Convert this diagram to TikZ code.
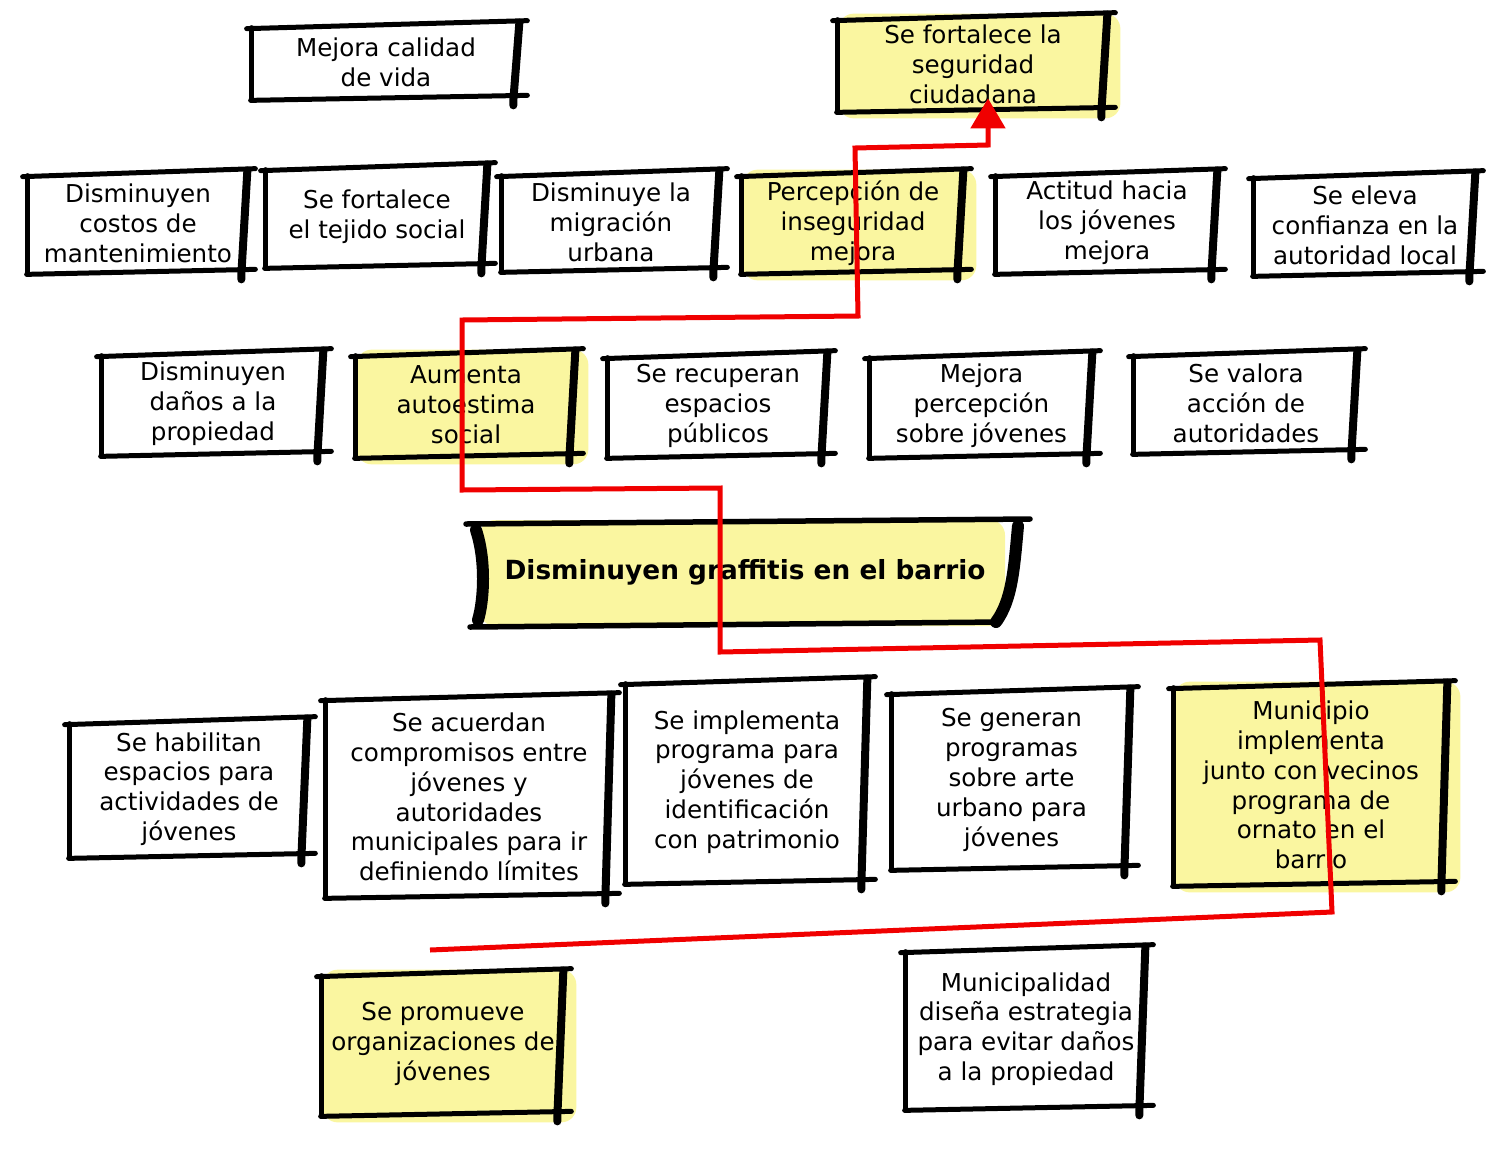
\documentclass[tikz,border=0pt]{standalone}
\usepackage{fontspec}
\setmainfont{DejaVu Sans}
\usetikzlibrary{arrows.meta}
\pgfdeclarelayer{background}
\pgfsetlayers{background,main}
\definecolor{yel}{RGB}{250,246,160}
\definecolor{redl}{RGB}{240,0,0}
\tikzset{
 card/.style={inner sep=0pt, align=center, font=\fontsize{14}{17}\selectfont, text=black},
 fr/.style={line width=0.1cm, line cap=round, black},
 frt/.style={line width=0.16cm, line cap=round, black},
 redpath/.style={draw=redl, line width=0.1cm, line join=miter, -{Triangle[width=0.68cm,length=0.6cm]}},
}
\newcommand\skframe[1]{%
 \draw[fr] ([shift={(-3,5)}]#1.north west) -- ([shift={(5,-3)}]#1.north east);
 \draw[fr] ([shift={(2,4)}]#1.north west) -- ([shift={(2,0)}]#1.south west);
 \draw[fr] ([shift={(1,0)}]#1.south west) -- ([shift={(5,-5)}]#1.south east);
 \draw[frt] ([shift={(-3,-1)}]#1.north east) -- ([shift={(-9,0)}]#1.south east) -- ++(0,5);
}
\newcommand\skbox[6]{%
 \pgfmathsetmacro\cx{(#2+#4)/2}\pgfmathsetmacro\cy{(#3+#5)/2}%
 \pgfmathsetmacro\ww{(#4-#2)*0.02}\pgfmathsetmacro\hh{(#5-#3)*0.02}%
 \node[card,minimum width=\ww cm,minimum height=\hh cm] (#1) at (\cx,\cy) {#6};%
 \skframe{#1}}
\newcommand\skyel[1]{%
 \begin{pgfonlayer}{background}
 \fill[yel,rounded corners=0.3cm] ([shift={(3,-2)}]#1.north west) rectangle ([shift={(10,6)}]#1.south east);
 \end{pgfonlayer}}
\begin{document}
\begin{tikzpicture}[x=0.02cm,y=-0.02cm]
\useasboundingbox (0,0) rectangle (1491,1157);
% row 0
\skbox{mcv}{250}{24}{522}{100}{Mejora calidad\\de vida}
\skbox{sfs}{836}{16}{1110}{112}{Se fortalece la\\seguridad\\ciudadana}\skyel{sfs}
% row 1
\skbox{b1}{26}{172}{250}{274}{Disminuyen\\costos de\\mantenimiento}
\skbox{b2}{264}{166}{490}{268}{Se fortalece\\el tejido social}
\skbox{b3}{500}{172}{722}{272}{Disminuye la\\migración\\urbana}
\skbox{b4}{740}{172}{966}{274}{Percepción de\\inseguridad\\mejora}\skyel{b4}
\skbox{b5}{994}{172}{1220}{274}{Actitud hacia\\los jóvenes\\mejora}
\skbox{b6}{1252}{174}{1478}{276}{Se eleva\\confianza en la\\autoridad local}
% row 2
\skbox{c1}{100}{352}{326}{456}{Disminuyen\\daños a la\\propiedad}
\skbox{c2}{354}{352}{578}{458}{Aumenta\\autoestima\\social}\skyel{c2}
\skbox{c3}{606}{354}{830}{458}{Se recuperan\\espacios\\públicos}
\skbox{c4}{868}{354}{1095}{458}{Mejora\\percepción\\sobre jóvenes}
\skbox{c5}{1132}{352}{1360}{454}{Se valora\\acción de\\autoridades}
% central
\node[card,font=\fontsize{15}{18}\selectfont\bfseries,minimum width=11.1cm,minimum height=2.16cm] (g) at (745,572) {Disminuyen graffitis en el barrio};
\begin{pgfonlayer}{background}
\fill[yel,rounded corners=0.3cm] (480,520) rectangle (1005,626);
\end{pgfonlayer}
\draw[fr,line width=0.11cm] (466,524) -- (1030,519);
\draw[fr,line width=0.11cm] (470,627) -- (1000,622);
\draw[line width=0.24cm,line cap=round] (476,530) .. controls (486,560) and (484,600) .. (478,620);
\draw[line width=0.24cm,line cap=round] (1018,526) .. controls (1014,570) and (1012,600) .. (996,622);
% row 3
\skbox{d1}{68}{720}{310}{858}{Se habilitan\\espacios para\\actividades de\\jóvenes}
\skbox{d2}{324}{696}{614}{898}{Se acuerdan\\compromisos entre\\jóvenes y\\autoridades\\municipales para ir\\definiendo límites}
\skbox{d3}{624}{680}{870}{884}{Se implementa\\programa para\\jóvenes de\\identificación\\con patrimonio}
\skbox{d4}{890}{690}{1133}{870}{Se generan\\programas\\sobre arte\\urbano para\\jóvenes}
\skbox{d5}{1172}{684}{1450}{886}{Municipio\\implementa\\junto con vecinos\\programa de\\ornato en el\\barrio}\skyel{d5}
% row 4
\skbox{e1}{320}{972}{566}{1116}{Se promueve\\organizaciones de\\jóvenes}\skyel{e1}
\skbox{e2}{904}{948}{1148}{1110}{Municipalidad\\diseña estrategia\\para evitar daños\\a la propiedad}
% red path
\coordinate (rs) at (430,950);
\draw[redpath] (rs) -- (1332,912) -- (1320,640) -- (720,652) -- (720,488) -- (462,490) -- (462,320) -- (858,316) -- (855,148) -- (988,145) -- ([shift={(15,-14)}]sfs.south);
\end{tikzpicture}
\end{document}
